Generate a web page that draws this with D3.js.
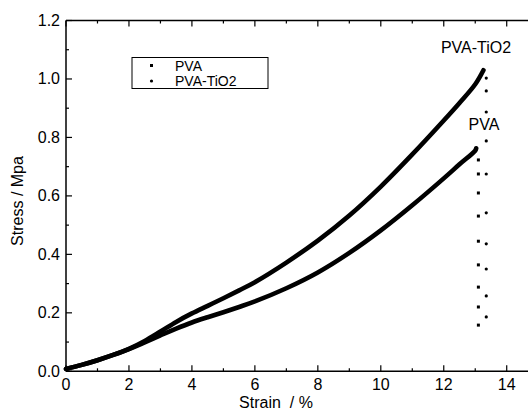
<!DOCTYPE html>
<html>
<head>
<meta charset="utf-8">
<script src="https://cdn.jsdelivr.net/npm/d3@7/dist/d3.min.js"></script>
<style>
body{margin:0;background:#fff}
text{font-family:"Liberation Sans",Arial,sans-serif;fill:#000}
</style>
</head>
<body>
<div id="chart"></div>
<script>
// curve readings (strain %, stress MPa)
var pvaStrain=[0,0.5,1,1.5,2,2.5,3,3.5,4,4.5,5,5.5,6,7,8,9,10,11,12,12.5,13,13.03];
var pvaStress=[0.008,0.022,0.038,0.056,0.076,0.099,0.123,0.146,0.167,0.185,0.202,0.22,0.239,0.284,0.338,0.405,0.482,0.568,0.66,0.708,0.755,0.763];
var tio2Strain=[0,0.5,1,1.5,2,2.5,3,3.5,4,4.5,5,5.5,6,7,8,9,10,11,12,12.5,13,13.26];
var tio2Stress=[0.008,0.022,0.038,0.056,0.077,0.104,0.136,0.169,0.198,0.224,0.25,0.277,0.305,0.372,0.447,0.533,0.632,0.742,0.858,0.918,0.982,1.03];
// sparse points after break
var pvaDropX=13.1, pvaDrop=[0.723,0.675,0.61,0.531,0.445,0.364,0.288,0.22,0.158];
var tio2DropX=13.35, tio2Drop=[1.003,0.959,0.887,0.788,0.675,0.542,0.436,0.35,0.258,0.186];

var xTicks=[0,2,4,6,8,10,12,14];
var yTicks=[0,0.2,0.4,0.6,0.8,1.0,1.2];
var legendNames=["PVA","PVA-TiO2"];

var W=528,H=411;
var svg=d3.select("#chart").append("svg").attr("width",W).attr("height",H);

var x=d3.scaleLinear().domain([0,15]).range([66,538.2]);
var y=d3.scaleLinear().domain([0,1.2]).range([371.3,20.5]);

var fs=16;

// frame lines
svg.append("line").attr("x1",x(0)).attr("x2",x(15)).attr("y1",y(0)).attr("y2",y(0)).attr("stroke","#000").attr("stroke-width",1.5);
svg.append("line").attr("x1",x(0)).attr("x2",x(15)).attr("y1",y(1.2)).attr("y2",y(1.2)).attr("stroke","#000").attr("stroke-width",1.5);
svg.append("line").attr("x1",x(0)).attr("x2",x(0)).attr("y1",y(0)).attr("y2",y(1.2)).attr("stroke","#000").attr("stroke-width",1.5);

// x ticks (inside, bottom and top)
d3.range(0,16,1).forEach(function(t){
  var len=(t%2==0)?6:3;
  svg.append("line").attr("x1",x(t)).attr("x2",x(t)).attr("y1",y(0)).attr("y2",y(0)-len).attr("stroke","#000").attr("stroke-width",1.2);
  svg.append("line").attr("x1",x(t)).attr("x2",x(t)).attr("y1",y(1.2)).attr("y2",y(1.2)+len).attr("stroke","#000").attr("stroke-width",1.2);
});
xTicks.forEach(function(t){
  svg.append("text").attr("x",x(t)).attr("y",y(0)+19).attr("text-anchor","middle").style("font-size",fs+"px").text(t);
});

// y ticks
d3.range(0,13,1).forEach(function(k){
  var v=k/10, len=(k%2==0)?6:3;
  svg.append("line").attr("x1",x(0)).attr("x2",x(0)+len).attr("y1",y(v)).attr("y2",y(v)).attr("stroke","#000").attr("stroke-width",1.2);
});
yTicks.forEach(function(t){
  svg.append("text").attr("x",x(0)-6).attr("y",y(t)+5.5).attr("text-anchor","end").style("font-size",fs+"px").text(t.toFixed(1));
});

// axis titles
svg.append("text").attr("x",276).attr("y",408).attr("text-anchor","middle").style("font-size","16px").attr("xml:space","preserve").text("Strain  / %");
svg.append("text").attr("transform","translate(23,201) rotate(-90)").attr("text-anchor","middle").style("font-size","16px").text("Stress / Mpa");

// curves
var line=d3.line().x(function(d){return x(d[0]);}).y(function(d){return y(d[1]);}).curve(d3.curveCatmullRom.alpha(0.5));
var pvaPts=pvaStrain.map(function(s,i){return [s,pvaStress[i]];});
var tioPts=tio2Strain.map(function(s,i){return [s,tio2Stress[i]];});
[pvaPts,tioPts].forEach(function(p){
  svg.append("path").datum(p).attr("d",line).attr("fill","none").attr("stroke","#000").attr("stroke-width",4.6).attr("stroke-linecap","round").attr("stroke-linejoin","round");
});

// points after break
pvaDrop.forEach(function(v){
  svg.append("rect").attr("x",x(pvaDropX)-1.5).attr("y",y(v)-1.5).attr("width",3).attr("height",3).attr("fill","#000");
});
tio2Drop.forEach(function(v){
  svg.append("circle").attr("cx",x(tio2DropX)).attr("cy",y(v)).attr("r",1.6).attr("fill","#000");
});

// curve labels
svg.append("text").attr("x",476).attr("y",53).attr("text-anchor","middle").style("font-size",fs+"px").text("PVA-TiO2");
svg.append("text").attr("x",484).attr("y",130).attr("text-anchor","middle").style("font-size",fs+"px").text("PVA");

// legend
var lg=svg.append("g");
lg.append("rect").attr("x",132).attr("y",57.5).attr("width",136).attr("height",31).attr("fill","#fff").attr("stroke","#000").attr("stroke-width",1);
legendNames.forEach(function(n,i){
  var cy=65.5+i*15.5;
  if(i==0) lg.append("rect").attr("x",150).attr("y",cy-1.5).attr("width",3).attr("height",3).attr("fill","#000");
  else lg.append("circle").attr("cx",151.5).attr("cy",cy).attr("r",1.6).attr("fill","#000");
  lg.append("text").attr("x",175).attr("y",cy+5).style("font-size","14px").text(n);
});
</script>
</body>
</html>
